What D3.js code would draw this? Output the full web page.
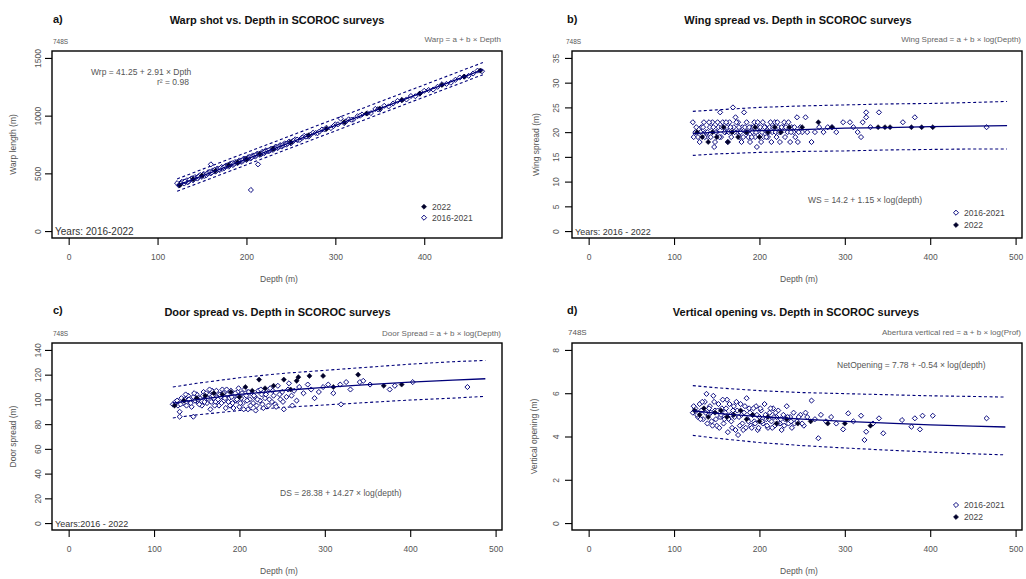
<!DOCTYPE html>
<html><head><meta charset="utf-8">
<script src="https://cdn.jsdelivr.net/npm/d3@7"></script>
<style>body{margin:0;background:#fff;} text{font-family:"Liberation Sans",Arial,Helvetica,sans-serif;}</style>
</head><body><svg id="c" width="1026" height="579"></svg>
<script>
// ---------- DATA ----------
const xTicksA = [0,100,200,300,400];
const xTicks = [0,100,200,300,400,500];
const yTicksA = [0,500,1000,1500];
const yTicksB = [0,5,10,15,20,25,30,35];
const yTicksC = [0,20,40,60,80,100,120,140];
const yTicksD = [0,2,4,6,8];

// a) Warp vs depth: [depth, warp]
const aOpen = [[122,415],[124,395],[125,400],[127,425],[129,428],[130,412],[133,440],[134,422],[135,430],[138,455],[139,458],[140,440],[142,468],[144,462],[145,455],[147,480],[148,486],[150,470],[152,495],[153,478],[155,485],[157,510],[158,505],[160,578],[160,500],[162,525],[163,522],[165,515],[167,540],[168,538],[170,528],[172,555],[173,540],[175,545],[177,565],[178,568],[180,558],[182,585],[183,578],[185,572],[187,598],[188,592],[190,588],[192,612],[193,602],[195,600],[197,628],[198,622],[200,615],[202,640],[203,632],[205,356],[205,630],[207,655],[208,650],[210,645],[212,670],[213,578],[215,660],[217,668],[218,688],[220,675],[222,700],[223,693],[225,690],[227,700],[228,715],[230,703],[232,722],[233,732],[235,718],[237,735],[238,745],[240,732],[242,745],[243,760],[245,748],[247,765],[248,775],[250,760],[252,778],[255,795],[258,788],[260,790],[262,805],[265,825],[268,822],[270,818],[275,852],[278,850],[280,848],[285,880],[290,895],[295,892],[300,925],[306,974],[310,935],[315,968],[320,965],[325,995],[330,1010],[340,1022],[345,1058],[350,1052],[355,1085],[360,1080],[370,1128],[380,1140],[385,1170],[390,1168],[400,1215],[410,1226],[420,1272],[430,1285],[440,1330],[450,1345],[460,1390],[465,1385],
 [126,410],[131,430],[136,445],[141,452],[146,470],[151,488],[156,498],[159,512],[161,508],[164,530],[166,520],[169,535],[171,548],[174,552],[176,560],[179,570],[181,575],[184,588],[186,582],[189,596],[191,598],[194,610],[196,615],[199,625],[201,628],[204,642],[206,640],[209,655],[211,660],[214,668],[216,672],[219,680],[221,690],[224,698],[226,705],[229,712],[231,715],[234,725],[236,730],[239,738],[241,745],[244,752],[246,758],[249,768],[253,782],[257,792],[263,810],[267,818],[272,835],[282,862],[288,880],[298,910],[303,925],[312,950],[318,965],[328,1000],[336,1020],[348,1055],[365,1105],[375,1135],[395,1190],[405,1222],[415,1250],[425,1275],[435,1310],[445,1338],[455,1365]];
const a2022 = [[125,398],[140,450],[150,480],[165,522],[180,570],[190,595],[200,622],[215,668],[230,712],[250,770],[270,830],[290,885],[310,944],[335,1018],[350,1062],[375,1135],[395,1192],[420,1265],[445,1338],[463,1390]];
const aLineDepth = [122,466];
const aFit = [396,1398];
const aUpper = [452,1460];
const aLower = [345,1355];

// b) Wing spread vs depth
const bOpen = [[122,22],[125,20],[128,19],[130,18],[132,21],[135,22],[137,20],[140,19],[142,21],[145,22],[147,17],[148,18],[150,20],[152,21],[154,24],[155,19],[157,22],[160,20],[162,21],[163,18],[165,22],[167,19],[169,25],[170,21],[172,23],[174,20],[175,22],[177,19],[179,18],[180,21],[182,24],[184,20],[185,22],[187,19],[189,18],[190,21],[192,20],[194,22],[195,19],[197,17],[199,21],[200,20],[202,18],[204,22],[205,19],[207,21],[209,20],[210,19],[212,21],[214,18],[215,20],[218,22],[220,19],[222,21],[224,18],[225,20],[228,21],[229,22],[230,19],[233,20],[236,18],[238,21],[240,20],[242,19],[244,23],[245,18],[248,21],[250,20],[254,23],[256,20],[261,18],[265,20],[270,21],[275,20],[280,21],[285,21],[290,20],[298,22],[306,22],[310,21],[315,20],[319,19],[321,22],[325,24],[325,23],[330,21],[340,24],[368,22],[382,23],[466,21],
 [123,19],[126,21],[131,20],[134,21],[136,19],[139,20],[141,22],[143,19],[146,21],[149,20],[151,22],[153,19],[156,21],[159,20],[161,22],[164,20],[166,21],[171,20],[173,22],[176,21],[178,20],[181,19],[183,21],[186,20],[188,21],[191,19],[193,21],[196,20],[198,22],[201,21],[203,20],[206,21],[208,19],[211,20],[213,22],[216,21],[219,20],[221,22],[223,20],[226,21],[231,21],[234,22],[237,20],[241,21],[246,20]];
const b2022 = [[127,20],[133,19],[140,18],[145,20],[150,19],[158,21],[163,18],[168,20],[175,19],[185,20],[195,21],[200,19],[210,20],[218,21],[225,20],[235,21],[250,21],[269,22],[285,21],[339,21],[347,21],[353,21],[378,21],[390,21],[403,21]];
const bLineDepth = [122,150,200,250,300,350,400,450,490];
const bFit = [19.7,20.0,20.3,20.5,20.8,20.9,21.1,21.2,21.3];
const bUpper = [24.2,24.5,25.0,25.3,25.5,25.7,25.8,26.0,26.2];
const bLower = [15.3,15.6,15.9,16.1,16.2,16.4,16.5,16.6,16.6];

// c) Door spread vs depth
const cOpen = [[122,96],[125,98],[128,95],[130,90],[130,86],[132,101],[134,97],[136,100],[138,95],[140,103],[142,98],[144,94],[146,86],[146,102],[148,99],[150,104],[152,97],[154,101],[156,95],[158,106],[160,100],[162,97],[164,104],[166,92],[168,107],[170,101],[172,98],[174,105],[176,95],[178,102],[180,108],[182,99],[184,93],[186,104],[188,101],[189,95],[190,107],[192,97],[194,103],[196,99],[198,106],[200,94],[202,101],[204,97],[206,108],[208,103],[210,92],[212,100],[214,105],[216,97],[218,102],[220,95],[222,107],[224,99],[226,104],[228,93],[230,101],[232,106],[234,95],[236,109],[238,98],[240,103],[242,96],[245,111],[248,100],[250,106],[252,92],[255,102],[258,113],[261,103],[264,107],[267,99],[270,110],[275,105],[280,112],[284,108],[288,101],[293,106],[298,110],[304,112],[310,105],[318,112],[319,96],[325,114],[330,108],[341,114],[345,115],[353,112],[376,108],[382,111],[403,114],[467,110],
 [127,99],[131,96],[137,104],[141,100],[143,97],[147,105],[151,100],[153,96],[157,103],[159,98],[161,105],[163,101],[165,108],[167,98],[169,103],[171,95],[173,107],[175,100],[177,104],[179,97],[181,105],[183,101],[185,108],[187,98],[191,102],[193,93],[195,105],[197,100],[199,109],[201,97],[203,105],[205,92],[209,99],[211,106],[213,95],[217,103],[219,91],[221,100],[225,108],[227,96],[231,104],[235,100],[239,107],[243,94],[247,104],[251,98],[257,108],[262,95]];
const c2022 = [[124,95],[135,99],[150,101],[160,103],[170,105],[180,104],[190,106],[200,102],[207,110],[215,107],[223,116],[230,109],[240,111],[252,116],[260,108],[267,115],[269,118],[282,119],[298,119],[310,110],[339,120],[369,111],[390,112]];
const cLineDepth = [122,150,200,250,300,350,400,450,488];
const cFit = [96.9,99.9,104.0,107.2,109.8,112.0,113.9,115.6,116.7];
const cUpper = [110,113,117.5,121,123.5,126,128.5,130.5,131.5];
const cLower = [85,87.5,91,93.5,95.5,97.5,99.5,101,102.5];

// d) Vertical opening vs depth
const dOpen = [[122,5.1],[125,5.3],[128,4.9],[130,5.5],[132,5.2],[134,4.8],[136,5.6],[138,5.97],[140,5.0],[142,5.4],[144,4.7],[146,5.88],[148,5.2],[150,4.5],[152,5.5],[154,4.9],[156,5.3],[158,4.6],[160,5.1],[162,5.7],[164,4.8],[166,5.0],[168,4.4],[170,5.4],[172,4.3],[174,5.2],[175,4.07],[176,4.9],[178,5.5],[180,4.6],[182,5.1],[184,4.4],[185,5.77],[186,4.8],[188,5.3],[190,4.5],[192,5.0],[194,4.7],[196,5.4],[198,4.3],[200,4.9],[202,5.2],[204,4.6],[206,5.5],[208,4.8],[210,4.4],[212,5.1],[214,4.7],[216,5.3],[218,4.5],[220,4.9],[222,5.2],[224,4.6],[226,4.3],[228,5.0],[230,4.8],[232,5.4],[234,4.6],[236,4.9],[238,4.4],[240,5.1],[244,4.7],[248,5.0],[252,4.5],[256,4.9],[261,5.66],[265,4.8],[269,3.92],[272,5.0],[278,4.7],[284,4.9],[290,4.6],[298,4.33],[304,5.07],[310,4.7],[319,4.96],[323,3.84],[325,4.22],[333,4.6],[340,4.84],[345,4.15],[367,4.76],[378,4.45],[382,4.84],[388,4.33],[391,4.96],[403,4.96],[466,4.84],
 [123,5.4],[127,5.0],[131,4.8],[133,5.6],[137,5.1],[139,4.6],[141,5.3],[143,5.1],[145,4.5],[147,5.6],[149,4.8],[151,5.2],[153,4.4],[155,5.0],[157,5.7],[159,4.8],[161,5.3],[163,4.2],[165,5.5],[167,4.7],[169,5.2],[171,4.9],[173,5.6],[177,4.5],[179,5.0],[181,4.3],[183,5.4],[187,4.7],[189,5.1],[191,4.4],[193,5.3],[195,4.6],[197,5.0],[199,4.4],[201,5.3],[203,4.7],[207,5.0],[209,4.5],[211,4.8],[213,5.3],[215,4.4],[217,4.9],[219,5.1],[221,4.6],[225,4.8],[229,4.5],[233,4.9],[237,4.7],[241,4.6],[246,4.9],[250,4.6],[254,5.1]];
const d2022 = [[124,5.2],[130,5.0],[135,5.3],[140,4.9],[148,5.1],[155,5.2],[162,4.9],[170,5.0],[178,5.2],[185,4.8],[192,5.0],[200,4.7],[210,4.9],[220,4.6],[232,4.8],[245,4.6],[260,4.7],[280,4.6],[300,4.6],[330,4.5]];
const dLineDepth = [122,150,200,250,300,350,400,450,488];
const dFit = [5.19,5.07,4.92,4.80,4.70,4.62,4.54,4.48,4.44];
const dUpper = [6.35,6.25,6.12,6.03,5.98,5.93,5.88,5.85,5.82];
const dLower = [4.05,3.92,3.72,3.58,3.47,3.37,3.28,3.20,3.15];

// ---------- DRAW ----------
const svg = d3.select("#c");
const NAVY = "#00007a", DARK = "#00002a";

function panel(o) {
  const g = svg.append("g");
  const x = d3.scaleLinear().domain(o.xd).range([o.bx0, o.bx1]);
  const y = d3.scaleLinear().domain(o.yd).range([o.by1, o.by0]);
  const line = d3.line().x(d => x(d[0])).y(d => y(d[1]));
  const mk = (ys) => o.lineDepth.map((d,i) => [d, ys[i]]);
  [o.upper, o.lower].forEach(ys => g.append("path").attr("d", line(mk(ys)))
     .attr("fill","none").attr("stroke",NAVY).attr("stroke-width",1.1).attr("stroke-dasharray","3,2.5"));
  const sq = d3.symbol().type(d3.symbolSquare).size(13);
  const sqf = d3.symbol().type(d3.symbolSquare).size(13);
  g.selectAll(".o").data(o.open).join("path").attr("d", sq)
    .attr("transform", d => `translate(${x(d[0])},${y(d[1])}) rotate(45)`)
    .attr("fill","#fff").attr("stroke",NAVY).attr("stroke-width",0.9);
  g.selectAll(".f").data(o.filled).join("path").attr("d", sqf)
    .attr("transform", d => `translate(${x(d[0])},${y(d[1])}) rotate(45)`)
    .attr("fill",DARK).attr("stroke",DARK).attr("stroke-width",0.5);
  g.append("path").attr("d", line(mk(o.fit))).attr("fill","none").attr("stroke",NAVY).attr("stroke-width",1.3);
  g.append("rect").attr("x",o.bx0).attr("y",o.by0).attr("width",o.bx1-o.bx0).attr("height",o.by1-o.by0)
    .attr("fill","none").attr("stroke","#000").attr("stroke-width",1.4);
  const ax = g.append("g").attr("transform",`translate(0,${o.by1})`)
    .call(d3.axisBottom(x).tickValues(o.xt).tickSize(7).tickPadding(9).tickFormat(d3.format("d")));
  ax.select(".domain").remove();
  ax.selectAll("line").attr("stroke","#000").attr("stroke-width",1.1);
  ax.selectAll("text").attr("fill","#555").style("font-size","8.5px").style("font-family","Liberation Sans, Arial, sans-serif");
  const ay = g.append("g").attr("transform",`translate(${o.bx0},0)`)
    .call(d3.axisLeft(y).tickValues(o.yt).tickSize(7).tickFormat(d3.format("d")));
  ay.select(".domain").remove();
  ay.selectAll("line").attr("stroke","#000").attr("stroke-width",1.1);
  ay.selectAll("text").attr("x",0).attr("y",-o.ylOff).attr("dy",0).attr("transform","rotate(-90)")
    .style("text-anchor","middle").attr("fill","#555").style("font-size","8.5px").style("font-family","Liberation Sans, Arial, sans-serif");
  const T = (x0,y0,s,size,opts={}) => g.append("text").attr("x",x0).attr("y",y0).text(s)
     .style("font-size",size+"px").attr("fill",opts.fill||"#555").attr("text-anchor",opts.anchor||"start")
     .attr("font-weight",opts.bold?"bold":"normal");
  T(o.lx, o.ly, o.letter, 11, {bold:true, fill:"#111"});
  T(o.tx, o.ty, o.title, 11, {bold:true, fill:"#111", anchor:"middle"});
  T(o.sx, o.sy, "748S", o.ssize, {fill:"#555"});
  T(o.bx1-1, o.fy, o.formula, 8, {anchor:"end", fill:"#666"});
  T((o.bx0+o.bx1)/2+2, o.by1+44, "Depth (m)", 8.5, {anchor:"middle", fill:"#555"});
  g.append("text").attr("transform",`translate(${o.ytx},${(o.by0+o.by1)/2}) rotate(-90)`).attr("text-anchor","middle")
    .style("font-size","8.5px").attr("fill","#555").text(o.ytitle);
  if (o.years) T(o.bx0+3, o.by1-3, o.years, o.ysize, {fill:"#333"});
  o.notes.forEach(n => T(n[0], n[1], n[2], 8.5, {fill:"#555"}));
  o.legend.forEach(l => {
    g.append("path").attr("d", l[2] ? sqf : sq).attr("transform",`translate(${o.legx},${l[0]}) rotate(45)`)
      .attr("fill", l[2] ? DARK : "#fff").attr("stroke", l[2] ? DARK : NAVY).attr("stroke-width", l[2]?0.5:0.9);
    T(o.legx+8, l[0]+3, l[1], 8.5, {fill:"#444"});
  });
}

panel({xd:[-18.75,487.5], yd:[-60,1560], bx0:52, bx1:502, by0:51, by1:238, xt:xTicksA, yt:yTicksA, ylOff:11,
  open:aOpen, filled:a2022, lineDepth:aLineDepth, fit:aFit, upper:aUpper, lower:aLower,
  letter:"a)", lx:53, ly:23, title:"Warp shot vs. Depth in SCOROC surveys", tx:277, ty:24,
  sx:53, sy:43.5, ssize:6.5, formula:"Warp = a + b × Depth", fy:42, ytx:16, ytitle:"Warp length (m)",
  years:"Years: 2016-2022", ysize:10,
  notes:[[91,74.5,"Wrp = 41.25 + 2.91 × Dpth"],[157,84.5,"r² = 0.98"]],
  legx:424, legend:[[206.7,"2022",true],[217.7,"2016-2021",false]]});

panel({xd:[-19.5,507.5], yd:[-1.4,36.4], bx0:572, bx1:1022, by0:51, by1:238, xt:xTicks, yt:yTicksB, ylOff:13,
  open:bOpen, filled:b2022, lineDepth:bLineDepth, fit:bFit, upper:bUpper, lower:bLower,
  letter:"b)", lx:567, ly:23, title:"Wing spread vs. Depth in SCOROC surveys", tx:798, ty:24,
  sx:566, sy:43.5, ssize:6.5, formula:"Wing Spread = a + b × log(Depth)", fy:42, ytx:539, ytitle:"Wing spread (m)",
  years:"Years: 2016 - 2022", ysize:9,
  notes:[[808,203,"WS = 14.2 + 1.15 × log(depth)"]],
  legx:956, legend:[[212.7,"2016-2021",false],[225,"2022",true]]});

panel({xd:[-19.5,507.5], yd:[-5.6,145.6], bx0:52, bx1:502, by0:343, by1:530, xt:xTicks, yt:yTicksC, ylOff:11,
  open:cOpen, filled:c2022, lineDepth:cLineDepth, fit:cFit, upper:cUpper, lower:cLower,
  letter:"c)", lx:53, ly:314, title:"Door spread vs. Depth in SCOROC surveys", tx:277.5, ty:316,
  sx:53, sy:335.5, ssize:6.5, formula:"Door Spread = a + b × log(Depth)", fy:335.5, ytx:16, ytitle:"Door spread (m)",
  years:"Years:2016 - 2022", ysize:9,
  notes:[[280,496,"DS = 28.38 + 14.27 × log(depth)"]],
  legx:0, legend:[]});

panel({xd:[-19.5,507.5], yd:[-0.32,8.32], bx0:572, bx1:1022, by0:343, by1:530, xt:xTicks, yt:yTicksD, ylOff:13,
  open:dOpen, filled:d2022, lineDepth:dLineDepth, fit:dFit, upper:dUpper, lower:dLower,
  letter:"d)", lx:567, ly:314, title:"Vertical opening vs. Depth in SCOROC surveys", tx:796, ty:316,
  sx:568, sy:335, ssize:8, formula:"Abertura vertical red = a + b × log(Prof)", fy:335, ytx:537, ytitle:"Vertical opening (m)",
  years:null, ysize:9,
  notes:[[837,368,"NetOpening = 7.78 + -0.54 × log(depth)"]],
  legx:956, legend:[[505,"2016-2021",false],[517,"2022",true]]});
</script></body></html>
